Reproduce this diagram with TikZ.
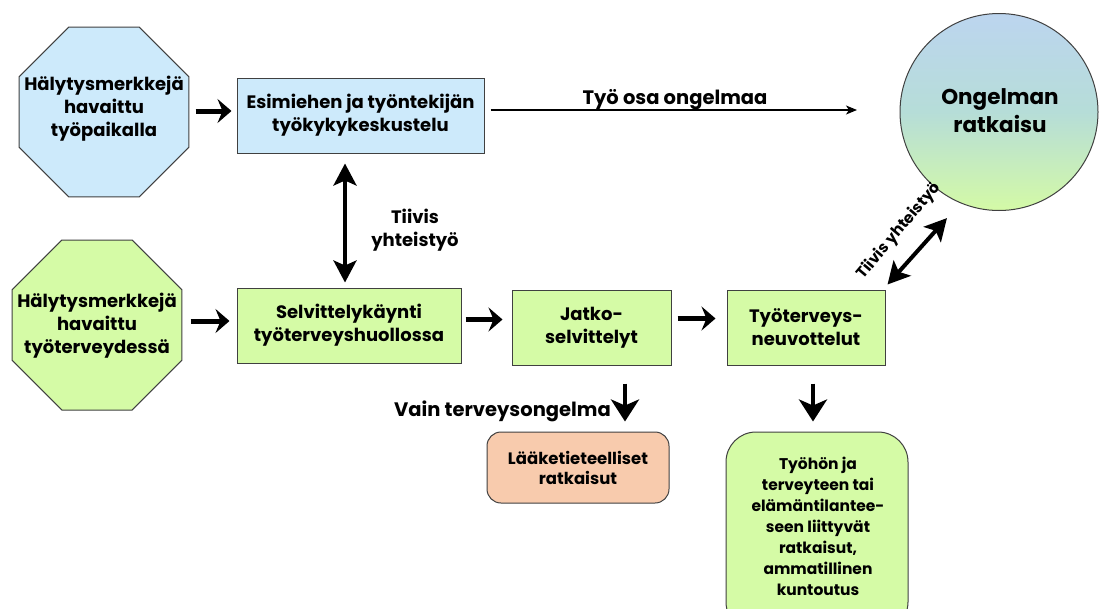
\documentclass[tikz,border=0pt]{standalone}
\usepackage{fontspec}
\setmainfont{Poppins}
\usetikzlibrary{shapes.geometric,arrows.meta,calc}
\definecolor{bluefill}{HTML}{CDEAFB}
\definecolor{greenfill}{HTML}{D5FBA6}
\definecolor{orangefill}{HTML}{F8CBAD}
\definecolor{edgegray}{HTML}{404040}
\definecolor{circtop}{HTML}{BCD5EF}
\definecolor{circmid}{HTML}{B6DDD8}
\definecolor{circbot}{HTML}{D4FAA6}
\begin{document}
\begin{tikzpicture}[x=1pt,y=-1pt,
  maintxt/.style={font=\fontsize{18}{23}\selectfont\bfseries, align=center, inner sep=0pt},
  smalltxt/.style={font=\fontsize{15.5}{21}\selectfont\bfseries, align=center, inner sep=0pt},
  octshape/.style={regular polygon, regular polygon sides=8, draw=edgegray, line width=1pt, minimum size=184pt, inner sep=0pt},
  boxshape/.style={rectangle, draw=edgegray, line width=1pt, inner sep=0pt},
  bigarrow/.style={line width=5pt, -{Stealth[length=14pt,width=24pt,inset=5pt]}},
  downarrow/.style={line width=4pt, -{Stealth[length=22pt,width=28pt,inset=6pt]}},
  dblarrow/.style={line width=4pt, {Stealth[length=22pt,width=23pt,inset=5pt]}-{Stealth[length=22pt,width=23pt,inset=5pt]}},
  thinarrow/.style={line width=1.5pt, -{Stealth[length=11pt,width=9pt,inset=3pt]}}
]
\useasboundingbox (0,0) rectangle (1100,608);
\fill[white] (0,0) rectangle (1100,608);
\clip (0,0) rectangle (1100,608);

% top row
\node[octshape, fill=bluefill] (o1) at (104,112) {};
\node[maintxt] (o1t) at (104,109) {Hälytysmerkkejä\\havaittu\\työpaikalla};
\node[boxshape, fill=bluefill, minimum width=247pt, minimum height=75pt] (r1) at (360.5,115.5) {};
\node[maintxt] (r1t) at (r1) {Esimiehen ja työntekijän\\työkykykeskustelu};
\node[ellipse, draw=edgegray, line width=1pt, minimum width=198pt, minimum height=197pt,
      top color=circtop, bottom color=circbot, middle color=circmid] (circ) at (999,112) {};
\node[font=\fontsize{21.5}{28}\selectfont\bfseries, align=center, inner sep=0pt] (circt) at (1000,111) {Ongelman\\ratkaisu};

% middle row
\node[octshape, fill=greenfill] (o2) at (97,325) {};
\node[maintxt] (o2t) at (97,326) {Hälytysmerkkejä\\havaittu\\työterveydessä};
\node[boxshape, fill=greenfill, minimum width=224pt, minimum height=75pt] (r2) at (349,325.5) {};
\node[maintxt] (r2t) at (r2) {Selvittelykäynti\\työterveyshuollossa};
\node[boxshape, fill=greenfill, minimum width=159pt, minimum height=75pt] (jatko) at (591.5,327.5) {};
\node[maintxt] (jatkot) at (jatko) {Jatko-\\selvittelyt};
\node[boxshape, fill=greenfill, minimum width=158pt, minimum height=75pt] (ty) at (806,327.5) {};
\node[maintxt] (tyt) at (ty) {Työterveys-\\neuvottelut};

% bottom row
\node[boxshape, fill=orangefill, rounded corners=14pt, minimum width=182pt, minimum height=71pt] (lk) at (578,467.5) {};
\node[smalltxt, font=\fontsize{16.5}{20}\selectfont\bfseries] (lkt) at (lk) {Lääketieteelliset\\ratkaisut};
\node[boxshape, fill=greenfill, rounded corners=30pt, minimum width=182pt, minimum height=200pt] (big) at (817,532) {};
\node[smalltxt] (bigt) at (818,526) {Työhön ja\\terveyteen tai\\elämäntilantee-\\seen liittyvät\\ratkaisut,\\ammatillinen\\kuntoutus};

% labels
\node[maintxt] (lab1) at (415,230) {Tiivis\\yhteistyö};
\node[maintxt, font=\fontsize{19.5}{23}\selectfont\bfseries] (lab2) at (675,100) {Työ osa ongelmaa};
\node[maintxt, font=\fontsize{19.5}{23}\selectfont\bfseries, anchor=east] (lab3) at (611,411) {Vain terveysongelma};
\node[smalltxt, rotate=50] (lab4) at (899,231) {Tiivis yhteistyö};
\coordinate (tend) at (857,110);

% connectors
\draw[bigarrow] ([xshift=6pt,yshift=1pt]o1.east) -- ([xshift=-5pt,yshift=1pt]o1.east -| r1.west);
\draw[thinarrow] ([xshift=6pt,yshift=5.5pt]r1.east) -- (tend);
\draw[dblarrow] ([xshift=-15.5pt,yshift=-10pt]r1.south) -- ([xshift=-15.5pt,yshift=5pt]r1.south |- r2.north);
\draw[bigarrow] ([xshift=8pt,yshift=4pt]o2.east) -- ([xshift=-7pt,yshift=4pt]o2.east -| r2.west);
\draw[bigarrow] ([xshift=4pt,yshift=6pt]r2.east) -- ([xshift=-9pt,yshift=6pt]r2.east -| jatko.west);
\draw[bigarrow] ([xshift=6pt,yshift=9pt]jatko.east) -- ([xshift=-11pt,yshift=9pt]jatko.east -| ty.west);
\draw[dblarrow, shorten >=20pt] ([xshift=2pt,yshift=5pt]ty.north east) -- (circ.247);
\draw[downarrow] ([xshift=33.5pt,yshift=-18pt]jatko.south) -- ([xshift=47pt,yshift=10pt]lk.north);
\draw[downarrow] ([xshift=7pt,yshift=-18pt]ty.south) -- ([xshift=-4pt,yshift=10pt]big.north);
\end{tikzpicture}
\end{document}
